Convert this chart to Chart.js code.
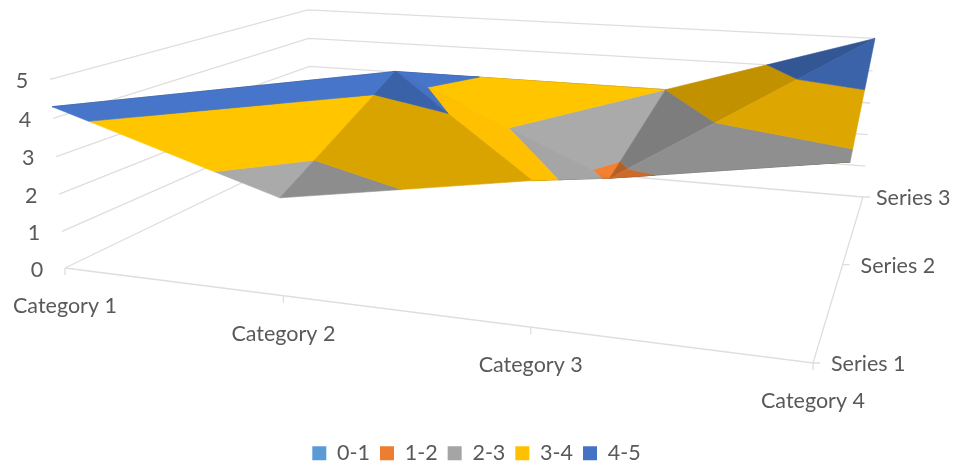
<!DOCTYPE html>
<html>
<head>
<meta charset="utf-8">
<title>Surface chart</title>
<script src="https://cdn.jsdelivr.net/npm/chart.js@4/dist/chart.umd.js"></script>
<style>
    html, body { margin: 0; padding: 0; background: #fff; }
    #box { position: relative; width: 959px; height: 466px; }
</style>
</head>
<body>
<div id="box"><canvas id="surfaceChart"></canvas></div>
<script>
const categories = ['Category 1', 'Category 2', 'Category 3', 'Category 4'];
const seriesNames = ['Series 1', 'Series 2', 'Series 3'];
const series1 = [4.3, 2.5, 3.5, 4.5];
const series2 = [2.4, 4.4, 1.8, 2.8];
const series3 = [2, 2, 3, 5];
const valueTicks = [0, 1, 2, 3, 4, 5];
const bandLabels = ['0-1', '1-2', '2-3', '3-4', '4-5'];
const bandColors = ['#5B9BD5', '#ED7D31', '#A5A5A5', '#FFC000', '#4472C4'];

const rows = [series1, series2, series3];
const lastCat = categories.length - 1;
const lastRow = rows.length - 1;
const topValue = valueTicks[valueTicks.length - 1];

const WIDTH = 959;
const GRID = '#DEDEDE';
const TEXT = '#595959';
const FONT = { family: 'Lato', size: 21.5 };
const seriesLabelGap = [18, 18, 13];

// where the box corners land on the canvas, the camera is solved from these
const floorFrontLeft = [65, 268];
const floorFrontRight = [813, 363];
const floorBackRight = [863, 197];
const floorBackLeft = [312, 149];
const topFrontLeft = [50, 80];
const topBackRight = [875, 38];

function solveCamera() {
    const [x0, y0] = floorFrontLeft, [x1, y1] = floorFrontRight;
    const [x2, y2] = floorBackRight, [x3, y3] = floorBackLeft;
    const dx1 = x1 - x2, dx2 = x3 - x2, sx = x0 - x1 + x2 - x3;
    const dy1 = y1 - y2, dy2 = y3 - y2, sy = y0 - y1 + y2 - y3;
    const den = dx1 * dy2 - dx2 * dy1;
    const g = (sx * dy2 - dx2 * sy) / den;
    const h = (dx1 * sy - sx * dy1) / den;
    const a = x1 - x0 + g * x1, b = x3 - x0 + h * x3, c = x0;
    const d = y1 - y0 + g * y1, e = y3 - y0 + h * y3, f = y0;

    // height terms, from the two top corners
    const wBack = g + h + 1;
    const xBack = a + b + c, yBack = d + e + f;
    const r = (xBack - x0 + topFrontLeft[0] - topBackRight[0] * wBack) / (topBackRight[0] - topFrontLeft[0]);
    const p = topFrontLeft[0] * (1 + r) - x0;
    const qFront = topFrontLeft[1] * (1 + r) - y0;
    const qBack = topBackRight[1] * (wBack + r) - yBack;
    const q = (qFront + qBack) / 2;
    return { a, b, c, d, e, f, g, h, p, q, r };
}

const cam = solveCamera();

function project(u, v, z) {
    const s = u / lastCat, t = v / lastRow, k = z / topValue;
    const w = cam.g * s + cam.h * t + 1 + cam.r * k;
    return {
        x: (cam.a * s + cam.b * t + cam.c + cam.p * k) / w,
        y: (cam.d * s + cam.e * t + cam.f + cam.q * k) / w
    };
}

function vertex(u, v) {
    return { u, v, z: rows[v][u] };
}

// each cell folds along the diagonal with the higher pair of values,
// the triangle holding the far corner comes first
function cellTriangles(u, v) {
    const near1 = vertex(u, v), near2 = vertex(u + 1, v);
    const far2 = vertex(u + 1, v + 1), far1 = vertex(u, v + 1);
    if (near1.z + far2.z >= near2.z + far1.z) {
        return [[near1, far2, far1], [near1, near2, far2]];
    }
    return [[far1, near2, far2], [near1, near2, far1]];
}

// lit from the left, faces that drop toward the last category are brightest,
// faces tipped toward the front lose a little
function faceLight(tri) {
    const [p, q, s] = tri;
    const ax = q.u - p.u, ay = q.v - p.v, az = q.z - p.z;
    const bx = s.u - p.u, by = s.v - p.v, bz = s.z - p.z;
    let nx = ay * bz - az * by;
    let ny = az * bx - ax * bz;
    let nz = ax * by - ay * bx;
    if (nz < 0) { nx = -nx; ny = -ny; nz = -nz; }
    const len = Math.sqrt(nx * nx + ny * ny + nz * nz);
    return Math.min(1.03, 0.97 + 0.27 * nx / len - 0.36 * Math.max(0, ny / len));
}

function shade(hex, light) {
    const n = parseInt(hex.slice(1), 16);
    const ch = i => Math.min(255, Math.round(((n >> i) & 255) * light));
    return `rgb(${ch(16)},${ch(8)},${ch(0)})`;
}

// keep the part of a polygon on one side of a height
function clipHeight(poly, level, keepAbove) {
    const out = [];
    poly.forEach((cur, i) => {
        const next = poly[(i + 1) % poly.length];
        const curIn = keepAbove ? cur.z >= level : cur.z <= level;
        const nextIn = keepAbove ? next.z >= level : next.z <= level;
        if (curIn) out.push(cur);
        if (curIn !== nextIn) {
            const f = (level - cur.z) / (next.z - cur.z);
            out.push({ u: cur.u + (next.u - cur.u) * f, v: cur.v + (next.v - cur.v) * f, z: level });
        }
    });
    return out;
}

function polygonDataset(points, color) {
    return {
        data: points,
        showLine: true,
        fill: 'shape',
        backgroundColor: color,
        borderColor: color,
        borderWidth: 0.6,
        pointRadius: 0,
        tension: 0
    };
}

function lineDataset(points) {
    return {
        data: points,
        showLine: true,
        fill: false,
        borderColor: GRID,
        borderWidth: 1.3,
        pointRadius: 0,
        tension: 0
    };
}

function buildSurface() {
    // the front right cell is seen almost edge on, it goes underneath the rest
    const cellOrder = [[2, 0], [0, 1], [1, 1], [2, 1], [0, 0], [1, 0]];
    const sets = [];
    cellOrder.forEach(([u, v]) => {
        cellTriangles(u, v).forEach(tri => {
            const light = faceLight(tri);
            bandColors.forEach((color, b) => {
                let poly = clipHeight(tri, valueTicks[b], true);
                if (poly.length) poly = clipHeight(poly, valueTicks[b + 1], false);
                if (poly.length < 3) return;
                const pts = poly.map(n => project(n.u, n.v, n.z));
                pts.push(pts[0]);
                sets.push(polygonDataset(pts, shade(color, light)));
            });
        });
    });
    return sets;
}

function buildGrid() {
    const sets = [];
    valueTicks.forEach(z => {
        sets.push(lineDataset([project(0, 0, z), project(0, lastRow, z), project(lastCat, lastRow, z)]));
    });
    sets.push(lineDataset([project(0, 0, 0), project(lastCat, 0, 0), project(lastCat, lastRow, 0)]));
    categories.forEach((c, u) => {
        const at = project(u, 0, 0);
        sets.push(lineDataset([at, { x: at.x, y: at.y + 7 }]));
    });
    seriesNames.forEach((s, v) => {
        const at = project(lastCat, v, 0);
        sets.push(lineDataset([at, { x: at.x + 7, y: at.y }]));
    });
    return sets;
}

// axis text sits around the box, so it is placed from the projection too
const axisText = {
    id: 'axisText',
    afterDraw(chart) {
        const ctx = chart.ctx;
        ctx.save();
        ctx.font = `${FONT.size}px ${FONT.family}`;
        ctx.fillStyle = TEXT;
        ctx.textBaseline = 'middle';
        ctx.textAlign = 'center';
        valueTicks.forEach(z => {
            const at = project(0, 0, z);
            ctx.fillText(String(z), at.x - 28, at.y + 2);
        });
        categories.forEach((c, u) => {
            const at = project(u, 0, 0);
            ctx.fillText(c, at.x, at.y + 38);
        });
        ctx.textAlign = 'left';
        seriesNames.forEach((s, v) => {
            const at = project(lastCat, v, 0);
            ctx.fillText(s, at.x + seriesLabelGap[v], at.y + 1);
        });
        ctx.restore();
    }
};

// nudge the legend down and left of where its item padding would put it
const legendShift = {
    id: 'legendShift',
    afterLayout(chart) {
        chart.legend.top += 8;
        chart.legend.left -= 3;
        chart.legend.right -= 3;
    }
};

new Chart(document.getElementById('surfaceChart').getContext('2d'), {
    type: 'scatter',
    data: {
        // first dataset ends up on top, so the painting order is flipped
        datasets: buildGrid().concat(buildSurface()).reverse()
    },
    options: {
        responsive: true,
        maintainAspectRatio: false,
        animation: false,
        events: [],
        layout: { padding: 0 },
        scales: {
            x: { type: 'linear', display: false, bounds: 'data', min: 0, max: WIDTH },
            y: {
                type: 'linear',
                display: false,
                bounds: 'data',
                reverse: true,
                afterDataLimits(scale) {
                    // one unit per pixel whatever room the legend leaves
                    scale.min = 0;
                    scale.max = scale.height || 400;
                }
            }
        },
        plugins: {
            tooltip: { enabled: false },
            legend: {
                position: 'bottom',
                onClick: null,
                labels: {
                    boxWidth: 14,
                    boxHeight: 14,
                    padding: 10,
                    color: TEXT,
                    font: FONT,
                    generateLabels: () => bandLabels.map((text, i) => ({
                        text,
                        fillStyle: bandColors[i],
                        strokeStyle: bandColors[i],
                        lineWidth: 0,
                        fontColor: TEXT,
                        datasetIndex: i
                    }))
                }
            }
        }
    },
    plugins: [axisText, legendShift]
});
</script>
</body>
</html>
